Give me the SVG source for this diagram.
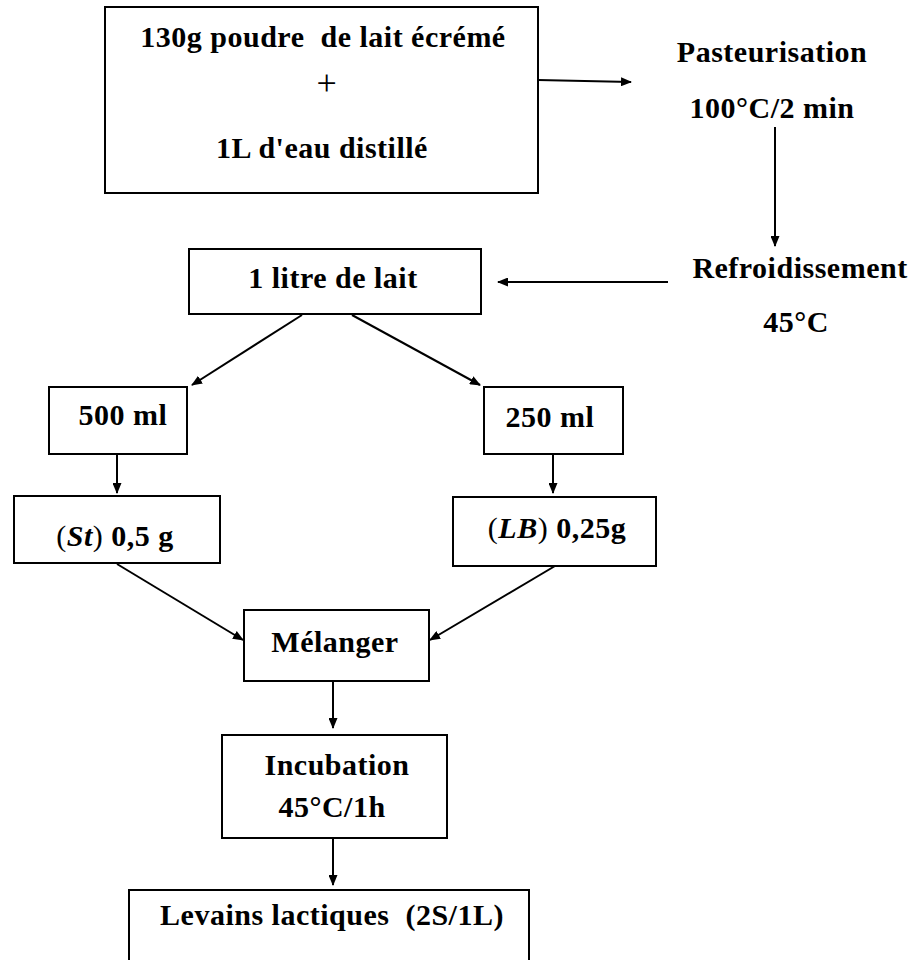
<svg xmlns="http://www.w3.org/2000/svg" width="915" height="960" viewBox="0 0 915 960">
<defs>
<marker id="ah" markerWidth="11" markerHeight="9" refX="10" refY="4.5" orient="auto" markerUnits="userSpaceOnUse">
<path d="M0,0 L11,4.5 L0,9 Z" fill="#000"/>
</marker>
<style>
.box{fill:#fff;stroke:#000;stroke-width:2}
.t{font-family:"Liberation Serif","Times New Roman",serif;font-weight:bold;font-size:30px;letter-spacing:0.5px;fill:#000;text-anchor:middle;white-space:pre}
.n{font-weight:normal}
.i{font-style:italic}
.c{stroke:#000;stroke-width:2;fill:none;marker-end:url(#ah)}
</style>
</defs>
<rect width="915" height="960" fill="#fff"/>
<g id="n1"><rect class="box" x="105" y="7" width="433" height="186"/>
<text class="t" x="323" y="47" xml:space="preserve">130g poudre  de lait écrémé</text>
<text class="t n" x="327" y="95" style="font-size:36px">+</text>
<text class="t" x="322" y="158">1L d'eau distillé</text></g>
<g id="n2"><text class="t" x="772" y="62">Pasteurisation</text>
<text class="t" x="772" y="118">100°C/2 min</text></g>
<g id="n3"><text class="t" x="800" y="278">Refroidissement</text>
<text class="t" x="796" y="332">45°C</text></g>
<g id="n4"><rect class="box" x="189" y="249" width="292" height="65"/>
<text class="t" x="333" y="288">1 litre de lait</text></g>
<g id="n5"><rect class="box" x="49" y="387" width="138" height="67"/>
<text class="t" x="123" y="425">500 ml</text></g>
<g id="n6"><rect class="box" x="484" y="387" width="139" height="67"/>
<text class="t" x="550" y="427">250 ml</text></g>
<g id="n7"><rect class="box" x="14" y="496" width="206" height="67"/>
<text class="t" x="115" y="546"><tspan class="n">(</tspan><tspan class="i">St</tspan><tspan class="n">)</tspan> 0,5 g</text></g>
<g id="n8"><rect class="box" x="453" y="497" width="203" height="69"/>
<text class="t" x="557" y="538"><tspan class="n">(</tspan><tspan class="i">LB</tspan><tspan class="n">)</tspan> 0,25g</text></g>
<g id="n9"><rect class="box" x="244" y="610" width="185" height="71"/>
<text class="t" x="335" y="652">Mélanger</text></g>
<g id="n10"><rect class="box" x="222" y="735" width="225" height="103"/>
<text class="t" x="337" y="775">Incubation</text>
<text class="t" x="332" y="817">45°C/1h</text></g>
<g id="n11"><rect class="box" x="129" y="890" width="400" height="85"/>
<text class="t" x="332" y="925" xml:space="preserve">Levains lactiques  (2S/1L)</text></g>
<g id="connectors">
<line class="c" x1="538" y1="80" x2="631" y2="82"/>
<line class="c" x1="775" y1="127" x2="775" y2="246"/>
<line class="c" x1="668" y1="282" x2="498" y2="282"/>
<line class="c" x1="302" y1="315" x2="192" y2="385"/>
<line class="c" x1="352" y1="315" x2="480" y2="385"/>
<line class="c" x1="117" y1="454" x2="117" y2="493"/>
<line class="c" x1="553" y1="454" x2="553" y2="493"/>
<line class="c" x1="117" y1="564" x2="243" y2="640"/>
<line class="c" x1="555" y1="566" x2="430" y2="640"/>
<line class="c" x1="333" y1="681" x2="333" y2="728"/>
<line class="c" x1="333" y1="838" x2="333" y2="885"/>
</g>
</svg>
